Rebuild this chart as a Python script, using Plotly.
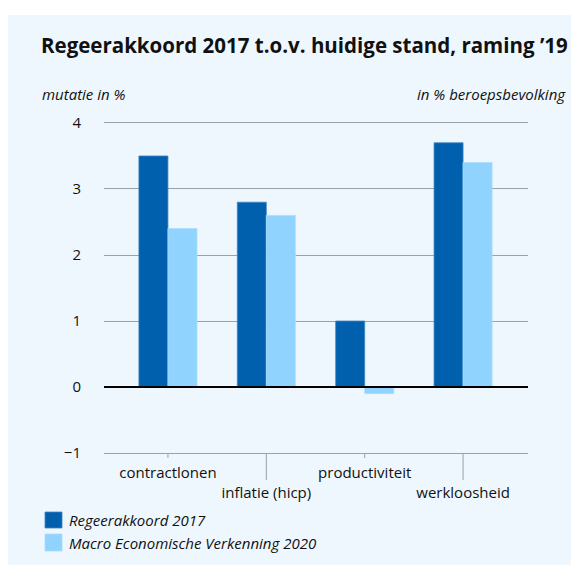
import plotly.graph_objects as go

categories = ["contractlonen", "inflatie (hicp)", "productiviteit", "werkloosheid"]
regeerakkoord = [3.5, 2.8, 1.0, 3.7]
mev2020 = [2.4, 2.6, -0.1, 3.4]
series_names = ["Regeerakkoord 2017", "Macro Economische Verkenning 2020"]
y_ticks = [-1, 0, 1, 2, 3, 4]
tick_labels = [c if i % 2 == 0 else "<br>" + c for i, c in enumerate(categories)]

W, H = 571, 572
L, R, T, B = 104, 528, 121, 455
FONT = "Open Sans"
DARK = "#0060AE"
LIGHT = "#8FD3FE"
BG = "#EEF7FE"
GRID = "#98A2AA"


def px(x):
    return (x - L) / (R - L)


def py(y):
    return (B - y) / (B - T)


fig = go.Figure()
colors = [DARK, LIGHT]
edges = ["#3F86C4", "#A9DDFF"]
for name, vals, col, edge in zip(series_names, [regeerakkoord, mev2020], colors, edges):
    fig.add_trace(go.Bar(x=categories, y=vals, name=name, showlegend=False,
                         marker=dict(color=col, line=dict(color=edge, width=0.8))))

shapes = [
    dict(type="rect", xref="paper", yref="paper", x0=px(8), x1=px(571), y0=py(565), y1=py(15),
         fillcolor=BG, line=dict(width=0), layer="below"),
]
for i, c in enumerate(categories):
    y_end = py(480) if i % 2 == 1 else py(458)
    shapes.append(dict(type="line", xref="x", yref="paper", x0=c, x1=c, y0=py(453), y1=y_end,
                       line=dict(color=GRID, width=1)))
shapes.append(dict(type="line", xref="paper", yref="y", x0=0, x1=1, y0=0, y1=0,
                   line=dict(color="black", width=2)))

annotations = [
    dict(text="<b>Regeerakkoord 2017 t.o.v. huidige stand, raming ’19</b>", xref="paper", yref="paper",
         x=px(39), y=py(45), xanchor="left", yanchor="middle", showarrow=False,
         font=dict(family=FONT, size=20.5, color="#111111")),
    dict(text="mutatie in %", xref="paper", yref="paper", x=px(40), y=py(94),
         xanchor="left", yanchor="middle", showarrow=False,
         font=dict(family=FONT, size=15, color="#111111", style="italic")),
    dict(text="in % beroepsbevolking", xref="paper", yref="paper", x=px(568), y=py(94),
         xanchor="right", yanchor="middle", showarrow=False,
         font=dict(family=FONT, size=15, color="#111111", style="italic")),
]

# manual legend
leg_rows = [(512, 528), (534, 551)]
for name, col, edge, (y0, y1) in zip(series_names, colors, edges, leg_rows):
    shapes.append(dict(type="rect", xref="paper", yref="paper", x0=px(45), x1=px(62),
                       y0=py(y1), y1=py(y0), fillcolor=col, line=dict(color=edge, width=0.8)))
    annotations.append(dict(text=name, xref="paper", yref="paper", x=px(67), y=py((y0 + y1) / 2),
                            xanchor="left", yanchor="middle", showarrow=False,
                            font=dict(family=FONT, size=15, color="#111111", style="italic")))

fig.update_layout(
    width=W, height=H,
    margin=dict(l=L, r=W - R, t=T, b=H - B, pad=0),
    paper_bgcolor="white", plot_bgcolor=BG,
    barmode="group", bargap=0.41, bargroupgap=0,
    font=dict(family=FONT, size=15, color="#111111"),
    shapes=shapes, annotations=annotations,
    showlegend=False,
    xaxis=dict(type="category", range=[-0.65, 3.66], tickmode="array",
               tickvals=categories, ticktext=tick_labels,
               ticks="", ticklabelstandoff=7, showgrid=False,
               showline=False, zeroline=False, tickfont=dict(size=15)),
    yaxis=dict(range=[-1.03, 4.03], tickvals=y_ticks, showgrid=True, gridcolor=GRID, gridwidth=1,
               zeroline=False, showline=False, ticks="", ticklabelstandoff=22,
               tickfont=dict(size=15)),
)

fig.write_html("out.html", config={"displayModeBar": False},
               post_script="document.body.style.margin='0px';")
